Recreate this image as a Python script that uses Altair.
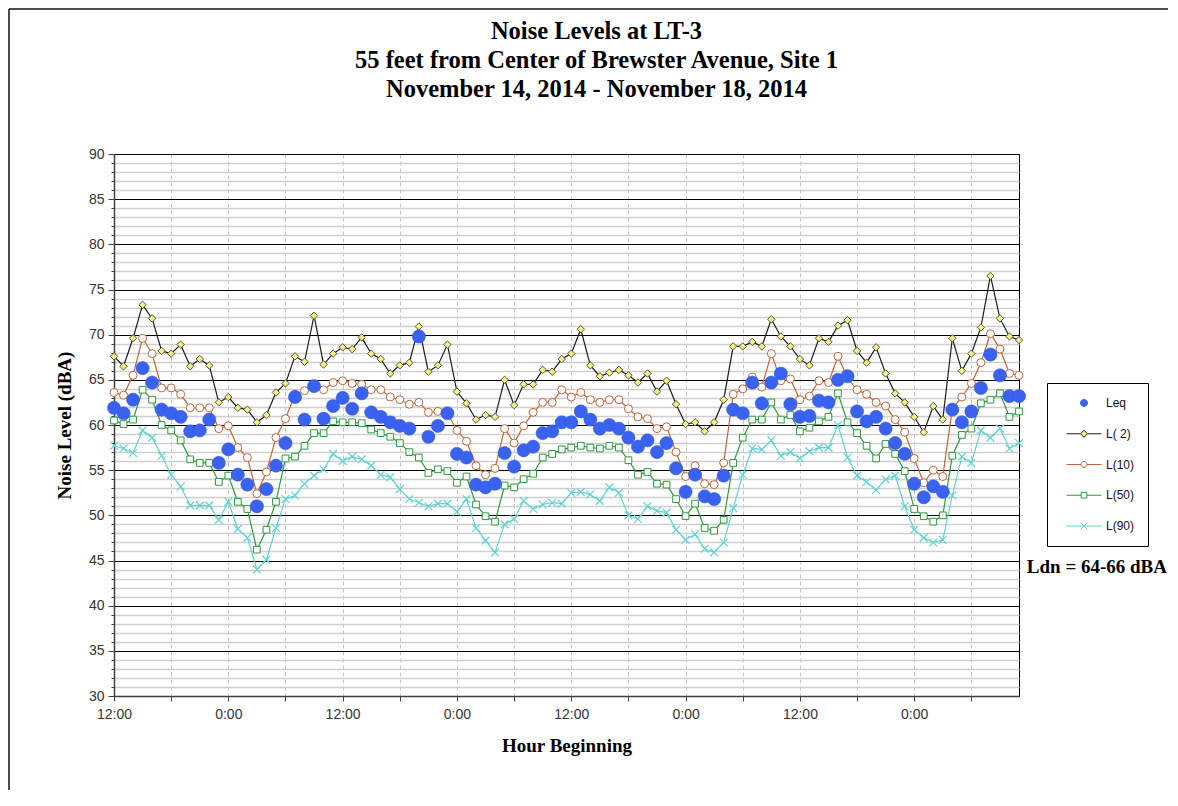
import altair as alt
import pandas as pd

# ---------------- data ----------------
hours = list(range(96))  # hours after 12:00 on Nov 14, 2014

leq = [61.9, 61.3, 62.8, 66.3, 64.7, 61.7, 61.3, 60.9, 59.3, 59.4, 60.6, 55.8,
       57.3, 54.5, 53.4, 51.0, 52.9, 55.5, 58.0, 63.1, 60.6, 64.3, 60.7, 62.1,
       63.0, 61.8, 63.5, 61.4, 60.9, 60.3, 59.9, 59.6, 69.8, 58.7, 59.9, 61.3,
       56.8, 56.4, 53.4, 53.1, 53.5, 56.9, 55.4, 57.2, 57.6, 59.1, 59.3, 60.3,
       60.3, 61.5, 60.6, 59.6, 60.0, 59.6, 58.6, 57.6, 58.3, 57.0, 58.0, 55.2,
       52.6, 54.5, 52.1, 51.8, 54.4, 61.7, 61.3, 64.7, 62.4, 64.7, 65.7, 62.3,
       60.9, 61.0, 62.7, 62.5, 65.0, 65.4, 61.5, 60.4, 60.9, 59.6, 58.0, 56.8,
       53.5, 52.0, 53.2, 52.6, 61.7, 60.3, 61.5, 64.1, 67.8, 65.5, 63.2, 63.2]

l2 = [67.6, 66.5, 69.6, 73.3, 71.8, 68.2, 67.9, 68.9, 66.5, 67.3, 66.6, 62.5,
      63.1, 61.9, 61.7, 60.3, 61.1, 63.6, 64.6, 67.6, 67.0, 72.1, 66.7, 67.9,
      68.6, 68.4, 69.7, 67.9, 67.3, 65.7, 66.6, 66.9, 70.9, 65.9, 66.6, 68.9,
      63.7, 62.4, 60.6, 61.1, 60.9, 65.0, 62.2, 64.5, 64.5, 66.1, 65.9, 67.3,
      67.9, 70.6, 66.6, 65.4, 65.8, 66.1, 65.5, 64.7, 65.7, 63.7, 64.9, 62.3,
      60.1, 60.3, 59.3, 60.3, 62.8, 68.7, 68.7, 69.2, 68.7, 71.7, 69.8, 68.7,
      67.3, 66.6, 69.6, 69.2, 71.0, 71.6, 68.2, 66.9, 68.6, 65.7, 63.5, 62.5,
      60.9, 59.2, 62.1, 60.6, 69.6, 66.0, 67.9, 70.8, 76.5, 71.8, 69.8, 69.4]

l10 = [63.6, 63.3, 65.5, 69.6, 67.9, 64.1, 64.1, 63.4, 61.9, 61.9, 61.9, 59.6,
       59.9, 57.5, 56.4, 52.4, 54.8, 58.6, 60.7, 63.4, 63.8, 64.4, 63.9, 64.7,
       64.9, 64.6, 64.5, 63.9, 63.9, 63.1, 62.8, 62.3, 62.5, 61.4, 61.5, 61.3,
       59.4, 58.2, 55.5, 54.5, 55.2, 59.6, 58.0, 59.9, 61.4, 62.5, 62.5, 63.9,
       63.1, 63.6, 62.8, 62.5, 62.8, 62.8, 61.8, 60.9, 60.7, 59.6, 59.8, 57.0,
       54.3, 55.5, 53.5, 53.4, 55.8, 63.4, 64.0, 65.3, 64.2, 67.9, 64.9, 65.1,
       62.8, 63.2, 64.9, 64.7, 67.6, 65.2, 63.9, 63.4, 62.5, 62.1, 60.6, 59.2,
       56.3, 53.6, 55.0, 54.3, 61.8, 63.1, 64.6, 66.9, 70.1, 68.4, 65.7, 65.5]

l50 = [60.5, 60.1, 60.6, 63.9, 62.8, 60.0, 59.4, 58.3, 56.2, 55.8, 55.8, 53.7,
       54.4, 51.5, 50.7, 46.2, 48.4, 51.5, 56.3, 56.5, 57.7, 59.1, 59.1, 60.4,
       60.3, 60.3, 60.2, 59.5, 59.1, 58.7, 58.0, 57.0, 56.4, 54.7, 55.1, 54.9,
       53.6, 54.3, 51.2, 49.9, 49.3, 53.3, 53.1, 54.0, 54.6, 56.4, 56.8, 57.3,
       57.5, 57.7, 57.5, 57.4, 57.7, 57.5, 56.1, 54.5, 54.8, 53.5, 53.4, 51.8,
       49.9, 51.3, 48.6, 48.3, 49.5, 55.8, 58.6, 60.6, 60.6, 62.5, 60.6, 61.1,
       59.3, 59.7, 60.4, 60.9, 63.5, 60.3, 59.1, 57.7, 56.3, 57.9, 56.8, 54.9,
       50.7, 49.9, 49.3, 50.0, 56.6, 58.9, 59.6, 62.4, 62.8, 63.5, 60.9, 61.5]

l90 = [57.7, 57.4, 56.9, 59.4, 58.6, 56.6, 54.5, 53.2, 51.1, 51.1, 51.1, 49.5,
       51.5, 48.5, 47.5, 44.0, 45.1, 48.6, 51.8, 52.2, 53.5, 54.4, 55.1, 56.8,
       56.0, 56.5, 56.2, 55.5, 54.5, 54.2, 52.9, 51.8, 51.4, 51.0, 51.3, 51.3,
       50.4, 51.8, 48.6, 47.2, 45.9, 49.0, 49.6, 51.6, 50.7, 51.2, 51.4, 51.3,
       52.5, 52.6, 52.3, 51.6, 53.1, 52.5, 50.0, 49.6, 51.0, 50.5, 50.3, 48.4,
       47.3, 47.9, 46.3, 45.9, 47.0, 50.8, 54.5, 57.4, 57.3, 58.3, 56.6, 57.0,
       56.3, 57.1, 57.5, 57.5, 60.0, 56.4, 54.4, 53.7, 52.8, 54.0, 54.4, 51.0,
       48.4, 47.5, 47.0, 47.3, 52.2, 56.5, 55.8, 59.4, 58.6, 59.6, 57.4, 58.0]

series_names = ["Leq", "L( 2)", "L(10)", "L(50)", "L(90)"]
series_values = [leq, l2, l10, l50, l90]

x_tick_hours = list(range(0, 96, 6))
x_tick_labels = ["12:00", "", "0:00", "", "12:00", "", "0:00", "",
                 "12:00", "", "0:00", "", "12:00", "", "0:00", ""]
y_tick_values = list(range(30, 91))

title_lines = ["Noise Levels at LT-3",
               "55 feet from  Center of Brewster Avenue, Site 1",
               "November 14, 2014 - November 18, 2014"]
x_title = "Hour  Beginning"
y_title = "Noise Level (dBA)"
ldn_label = "Ldn = 64-66 dBA"

# ---------------- table ----------------
rows = []
for name, vals in zip(series_names, series_values):
    for h, v in zip(hours, vals):
        rows.append({"hour": h, "series": name, "level": v})
df = pd.DataFrame(rows)

# ---------------- styles ----------------
SERIF = "Liberation Serif"
SANS = "Liberation Sans"
X_PATH = "M-1,-1L1,1M-1,1L1,-1"

line_colors = {"L( 2)": "#1e1e1e", "L(10)": "#c0653a", "L(50)": "#2f9a3c", "L(90)": "#62d3d3"}
marker_styles = {
    "L(90)": dict(shape=X_PATH, filled=False, stroke="#62d3d3", size=60, strokeWidth=1.2),
    "L(50)": dict(shape="square", filled=True, fill="#ffffff", stroke="#2f9a3c", size=45, strokeWidth=1),
    "L(10)": dict(shape="circle", filled=True, fill="#ffffff", stroke="#c0653a", size=64, strokeWidth=1),
    "L( 2)": dict(shape="diamond", filled=True, fill="#f3ef86", stroke="#55553a", size=55, strokeWidth=1),
    "Leq": dict(shape="circle", filled=True, fill="#3a62f0", stroke="#3456e0", size=175, strokeWidth=0.5),
}

label_array = "[" + ",".join("'" + s + "'" for s in x_tick_labels) + "]"

x_enc = alt.X(
    "hour:Q",
    scale=alt.Scale(domain=[0, 95], nice=False, zero=False),
    axis=alt.Axis(
        values=x_tick_hours,
        labelExpr=label_array + "[round(datum.value / 6)]",
        title=x_title,
        grid=True, gridDash=[4, 3], gridColor="#c4c4c4", gridWidth=1,
        labelFlush=False, labelOverlap=False,
        tickSize=5, labelPadding=6, titlePadding=15,
    ),
)
y_enc = alt.Y(
    "level:Q",
    scale=alt.Scale(domain=[30, 90], nice=False, zero=False),
    axis=alt.Axis(
        values=y_tick_values,
        labelExpr="datum.value % 5 === 0 ? datum.label : ''",
        title=y_title,
        grid=True,
        gridColor={"condition": {"test": "datum.value % 5 === 0", "value": "#000000"}, "value": "#cfcfcf"},
        gridWidth={"condition": {"test": "datum.value % 5 === 0", "value": 1}, "value": 1.4},
        tickSize={"condition": {"test": "datum.value % 5 === 0", "value": 6}, "value": 3},
        labelFlush=False, labelOverlap=False,
        labelPadding=4, titlePadding=14,
    ),
)

base = alt.Chart(df).encode(x=x_enc, y=y_enc)

layers = []
for name in ["L(90)", "L(50)", "L(10)", "L( 2)"]:
    layers.append(
        base.transform_filter(alt.datum.series == name)
        .mark_line(color=line_colors[name], strokeWidth=1.2)
    )
for name in ["L(90)", "L(50)", "L(10)", "L( 2)", "Leq"]:
    layers.append(
        base.transform_filter(alt.datum.series == name)
        .mark_point(opacity=1, **marker_styles[name])
    )

# legend (scales only; layer draws no marks)
legend_paths = [
    "M-0.2,0A0.2,0.2 0 1,0 0.2,0A0.2,0.2 0 1,0 -0.2,0Z",
    "M-1,0L-0.2,0M0.2,0L1,0M0,-0.2L0.2,0L0,0.2L-0.2,0Z",
    "M-1,0L-0.17,0M0.17,0L1,0M-0.17,0A0.17,0.17 0 1,0 0.17,0A0.17,0.17 0 1,0 -0.17,0Z",
    "M-1,0L-0.16,0M0.16,0L1,0M-0.16,-0.16L0.16,-0.16L0.16,0.16L-0.16,0.16Z",
    "M-1,0L1,0M-0.2,-0.2L0.2,0.2M-0.2,0.2L0.2,-0.2",
]
legend_fills = ["#3a62f0", "#f3ef86", "#ffffff", "#ffffff", "transparent"]
legend_strokes = ["#3a62f0", "#1e1e1e", "#c0653a", "#2f9a3c", "#62d3d3"]

leg = alt.Legend(
    title=None, orient="none", legendX=933, legendY=229,
    strokeColor="#000000", fillColor="#ffffff", padding=13,
    clipHeight=14, rowPadding=16.75,
    symbolSize=1225, symbolStrokeWidth=1, symbolOffset=6,
    labelFont=SANS, labelFontSize=12, labelColor="#111111", labelOffset=4,
)
legend_layer = base.transform_filter("false").mark_point(filled=True, opacity=1).encode(
    shape=alt.Shape("series:N", scale=alt.Scale(domain=series_names, range=legend_paths), legend=leg),
    fill=alt.Fill("series:N", scale=alt.Scale(domain=series_names, range=legend_fills), legend=leg),
    stroke=alt.Stroke("series:N", scale=alt.Scale(domain=series_names, range=legend_strokes), legend=leg),
)
layers.append(legend_layer)

# annotation text
ldn = alt.Chart(pd.DataFrame({"t": [ldn_label]})).mark_text(
    font=SERIF, fontSize=19, fontWeight="bold", align="right", baseline="middle", color="#000000"
).encode(text="t:N", x=alt.value(1053), y=alt.value(413))
layers.append(ldn)

# outer frame lines
frame_df = pd.DataFrame({"k": [0]})
top_rule = alt.Chart(frame_df).mark_rule(color="#111111", strokeWidth=1.5).encode(
    x=alt.value(-105), x2=alt.value(1054), y=alt.value(-145))
left_rule = alt.Chart(frame_df).mark_rule(color="#111111", strokeWidth=1.5).encode(
    x=alt.value(-105), y=alt.value(-145), y2=alt.value(636))
layers += [top_rule, left_rule]

chart = alt.layer(*layers).properties(
    width=905, height=542, padding=0,
    title=alt.TitleParams(
        text=title_lines, font=SERIF, fontSize=24.5, fontWeight="bold", color="#000000",
        anchor="middle", frame="group", dx=30, offset=-94, lineHeight=29,
    ),
).configure_view(
    stroke="#000000", strokeWidth=1
).configure_axis(
    labelFont=SANS, labelFontSize=14, labelColor="#333333",
    titleFont=SERIF, titleFontSize=19, titleFontWeight="bold", titleColor="#000000",
    domainColor="#404040", domainWidth=1.5, tickColor="#404040", tickWidth=1,
)

chart.save("out.html", embed_options={"renderer": "svg", "actions": False})
